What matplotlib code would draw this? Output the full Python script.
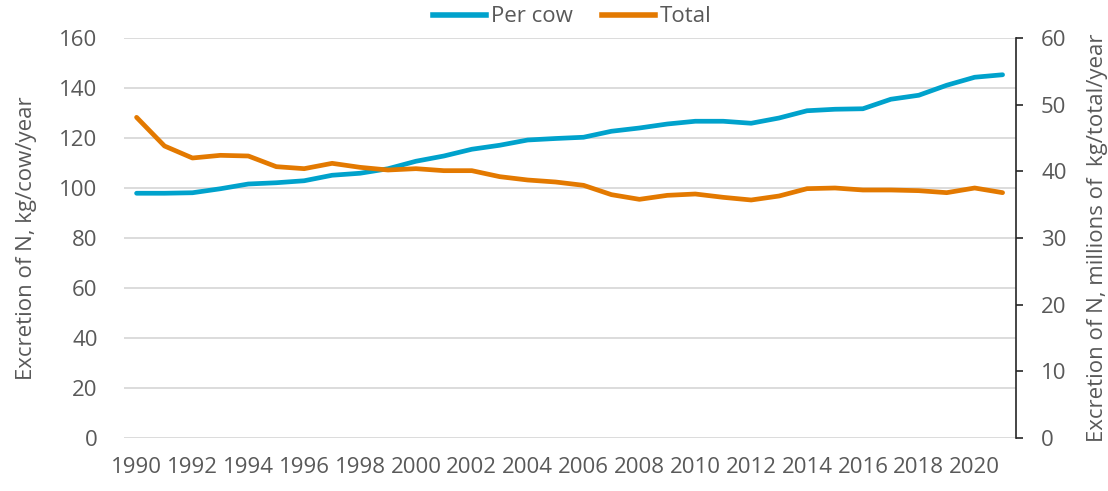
import matplotlib
matplotlib.use('Agg')
import matplotlib.pyplot as plt
from matplotlib.lines import Line2D

years = list(range(1990, 2022))

per_cow = [97.9, 97.9, 98.1, 99.7, 101.6, 102.1, 102.9, 105.1, 105.9, 107.7,
           110.7, 112.8, 115.5, 117.1, 119.2, 119.8, 120.3, 122.7, 124.0, 125.6,
           126.7, 126.7, 125.9, 128.0, 130.9, 131.5, 131.7, 135.5, 137.1, 141.1,
           144.3, 145.3]

total = [48.1, 43.8, 42.0, 42.4, 42.3, 40.7, 40.4, 41.2, 40.6, 40.2,
         40.4, 40.1, 40.1, 39.2, 38.7, 38.4, 37.9, 36.5, 35.8, 36.4,
         36.6, 36.1, 35.7, 36.3, 37.4, 37.5, 37.2, 37.2, 37.1, 36.8,
         37.5, 36.8]

year_ticks = list(range(1990, 2021, 2))

blue = '#00A2CC'
orange = '#E37900'
grey = '#595959'

plt.rcParams['font.family'] = ['Open Sans', 'DejaVu Sans']
plt.rcParams['font.size'] = 16

fig = plt.figure(figsize=(11.08, 4.91), dpi=100)
ax = fig.add_axes([124 / 1108, 1 - 438 / 491, (1016 - 124) / 1108, 400 / 491])
ax2 = ax.twinx()

ax.plot(years, per_cow, color=blue, lw=3.4, solid_capstyle='round')
ax2.plot(years, total, color=orange, lw=3.4, solid_capstyle='round')

ax.set_xlim(1989.55, 2021.48)
ax.set_ylim(0, 160)
ax2.set_ylim(0, 60)
ax.set_yticks(range(0, 161, 20))
ax2.set_yticks(range(0, 61, 10))
ax.set_xticks(year_ticks)

ax.grid(axis='y', color='#D9D9D9', lw=1.3)
ax.set_axisbelow(True)

for s in ax.spines.values():
    s.set_visible(False)
for s in ['top', 'left', 'bottom']:
    ax2.spines[s].set_visible(False)
ax2.spines['right'].set_color('#262626')
ax2.spines['right'].set_linewidth(1.2)

ax.tick_params(axis='y', length=0, pad=19, labelcolor=grey)
ax.tick_params(axis='x', length=0, pad=14, labelcolor=grey)
ax2.tick_params(axis='y', length=5, width=1.2, color='#262626', pad=13, labelcolor=grey)

ax.set_ylabel('Excretion of N, kg/cow/year', color=grey, labelpad=16)
ax2.set_ylabel('Excretion of N, millions of  kg/total/year', color=grey, labelpad=15)

handles = [Line2D([], [], color=blue, lw=4), Line2D([], [], color=orange, lw=4)]
fig.legend(handles, ['Per cow', 'Total'], loc='center', bbox_to_anchor=(572 / 1108, 1 - 17 / 491),
           ncol=2, frameon=False, handlelength=2.4, handletextpad=0.2, columnspacing=1.3,
           labelcolor=grey, borderpad=0)

fig.savefig('out.png', dpi=100)
